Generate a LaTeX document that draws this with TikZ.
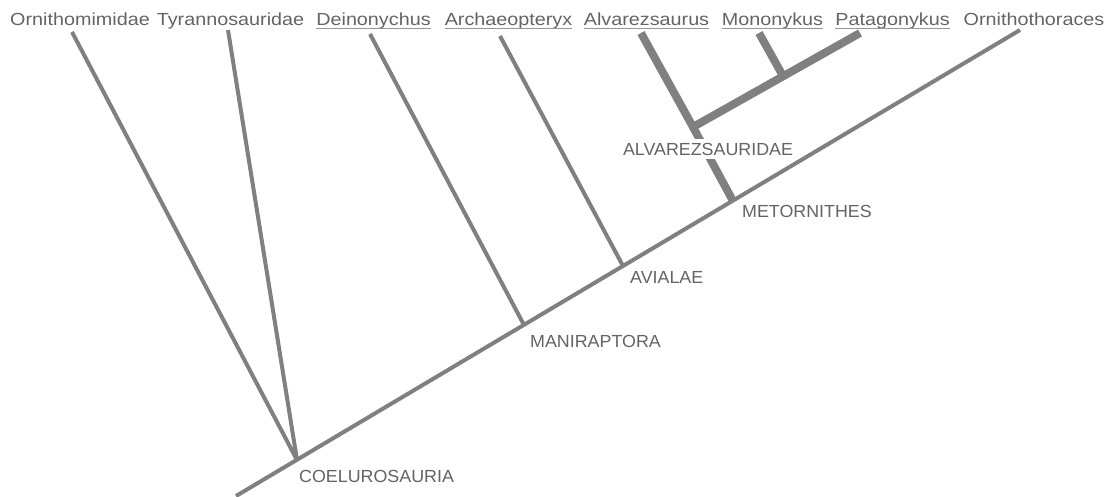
\documentclass[tikz,border=0pt]{standalone}
\usepackage{fontspec}
\setmainfont{Liberation Sans}
\newfontfamily\topfont[FakeStretch=1.13]{Liberation Sans}
\newfontfamily\cladefont[FakeStretch=1.02]{Liberation Sans}
\definecolor{linegray}{RGB}{128,128,128}
\definecolor{textgray}{RGB}{100,100,100}
\definecolor{ulgray}{RGB}{150,150,150}
\begin{document}
\begin{tikzpicture}[x=1pt,y=-1pt,
  taxon/.style={anchor=base, inner sep=0pt, text=textgray, font=\topfont\fontsize{17.5}{20}\selectfont},
  clade/.style={anchor=base west, inner sep=0pt, text=textgray, font=\cladefont\fontsize{17.5}{20}\selectfont},
  branch/.style={draw=linegray, line width=4pt},
  thickbranch/.style={draw=linegray, line width=8pt, line join=miter},
  uline/.style={draw=ulgray, line width=0.9pt}]
\useasboundingbox (0,0) rectangle (1114,496);
\fill[white] (0,0) rectangle (1114,496);
\clip (0,0) rectangle (1114,496);

% junctions
\coordinate (root) at (236,496);
\coordinate (coel) at (297,460);
\coordinate (mani) at (524,325);
\coordinate (avia) at (623,266);
\coordinate (meto) at (733,201);
\coordinate (alva) at (693,127);
\coordinate (mpj)  at (783,76);
% tips
\coordinate (tOrnm) at (72,32);
\coordinate (tTyr)  at (228,30);
\coordinate (tDein) at (370,34);
\coordinate (tArch) at (500,36);
\coordinate (tAlv)  at (641,33);
\coordinate (tMono) at (759,33);
\coordinate (tPata) at (860,33);
\coordinate (tOrnt) at (1020,30);

% top taxon labels
\node[taxon] (lOrnm) at (80,25) {Ornithomimidae};
\node[taxon] (lTyr)  at (230.5,25) {Tyrannosauridae};
\node[taxon] (lDein) at (373.5,25) {Deinonychus};
\node[taxon] (lArch) at (508.5,25) {Archaeopteryx};
\node[taxon] (lAlv)  at (646.5,25) {Alvarezsaurus};
\node[taxon] (lMono) at (772.5,25) {Mononykus};
\node[taxon] (lPata) at (892.5,25) {Patagonykus};
\node[taxon] (lOrnt) at (1034,25) {Ornithothoraces};
\foreach \n in {lDein,lArch,lAlv,lMono,lPata}
  \draw[uline] ([yshift=-3pt]\n.base west) -- ([yshift=-3pt]\n.base east);

% alvarezsaurid clade (thick)
\draw[thickbranch] (meto) -- (alva);
\draw[thickbranch] (tAlv) -- (alva) -- (tPata);
\draw[thickbranch] (tMono) -- (mpj);
\node[anchor=base, fill=white, inner sep=4pt, text=textgray, font=\cladefont\fontsize{17.5}{20}\selectfont] (lAlva) at (708,155) {ALVAREZSAURIDAE};

% main stem and branches
\draw[branch] (root) -- (tOrnt);
\draw[branch] (tOrnm) -- (coel);
\draw[branch] (tTyr) -- (coel);
\draw[branch] (tDein) -- (mani);
\draw[branch] (tArch) -- (avia);

% clade labels
\node[clade] (lCoel) at (299,482) {COELUROSAURIA};
\node[clade] (lMani) at (530,347) {MANIRAPTORA};
\node[clade] (lAvia) at (630,283) {AVIALAE};
\node[clade] (lMeto) at (742,217) {METORNITHES};
\end{tikzpicture}
\end{document}
